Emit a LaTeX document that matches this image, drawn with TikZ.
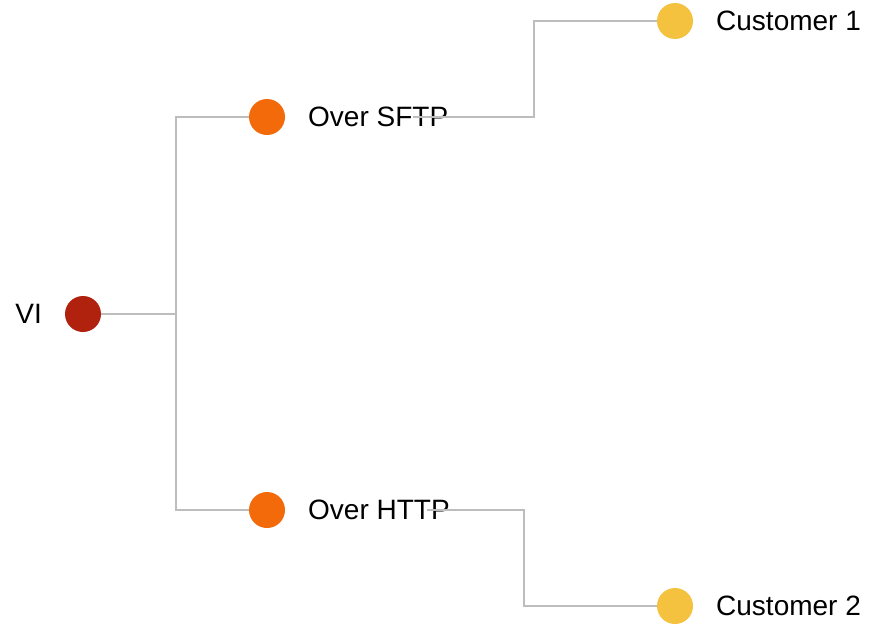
\documentclass[tikz,border=0pt]{standalone}
\usepackage{fontspec}
\setmainfont{Liberation Sans}
\definecolor{rootred}{HTML}{B0210E}
\definecolor{midorange}{HTML}{F26A0A}
\definecolor{leafyellow}{HTML}{F4C23F}
\definecolor{linkgray}{HTML}{BDBDBD}
\begin{document}
\begin{tikzpicture}[x=1pt, y=-1pt, dot/.style={circle,minimum size=36pt,inner sep=0pt}, tag/.style={anchor=west,inner sep=0pt,font=\fontsize{28}{33}\selectfont}, link/.style={draw=linkgray,line width=1.6pt}]
\useasboundingbox (0,0) rectangle (869,624);
\begin{scope}
\node[dot,fill=rootred] (vi) at (83,314) {};
\node[dot,fill=midorange] (sftp) at (267,117) {};
\node[dot,fill=midorange] (http) at (267,510) {};
\node[dot,fill=leafyellow] (c1) at (675,21) {};
\node[dot,fill=leafyellow] (c2) at (675,606) {};
%\node[dot] () at (,) {};
\end{scope}
\begin{scope}
\node[tag,anchor=east] (vit) at (42,314) {VI};
\node[tag] (sftpt) at (308,117) {Over SFTP};
\node[tag] (httpt) at (308,510) {Over HTTP};
\node[tag] (c1t) at (716,21) {Customer 1};
\node[tag] (c2t) at (716,606) {Customer 2};
\end{scope}
\coordinate (split) at (176,314);
\coordinate (sftpout) at (413,117);
\coordinate (sftpturn) at (534,117);
\coordinate (httpout) at (427,510);
\coordinate (httpturn) at (524,510);
\begin{scope}
\draw[link] (vi) -- (split);
\draw[link] (split) |- (sftp);
\draw[link] (split) |- (http);
\draw[link] (sftpout) -- (sftpturn) |- (c1);
\draw[link] (httpout) -- (httpturn) |- (c2);
\end{scope}
\end{tikzpicture}
\end{document}
